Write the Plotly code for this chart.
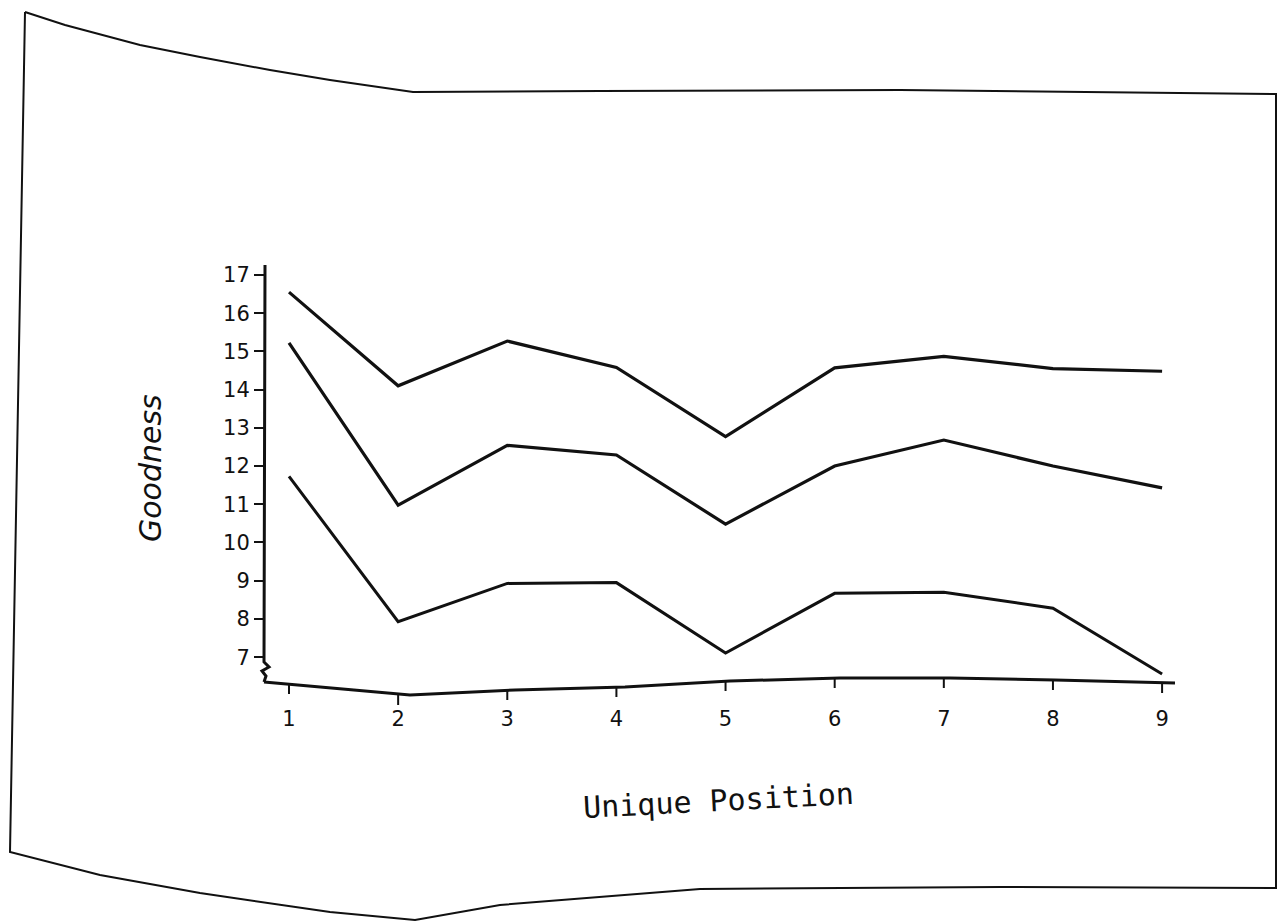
import plotly.graph_objects as go

# ---- data ----
positions = [1, 2, 3, 4, 5, 6, 7, 8, 9]
series_high = [16.55, 14.1, 15.27, 14.58, 12.77, 14.57, 14.87, 14.55, 14.48]
series_mid = [15.22, 10.98, 12.54, 12.29, 10.48, 12.0, 12.68, 12.0, 11.43]
series_low = [11.73, 7.93, 8.93, 8.95, 7.11, 8.67, 8.7, 8.28, 6.56]
y_ticks = [7, 8, 9, 10, 11, 12, 13, 14, 15, 16, 17]
x_title = "Unique Position"
y_title = "Goodness"

# ---- layout geometry (pixels) ----
W, H = 1277, 923
L, R, T, B = 265, 1173, 265, 682
X_RANGE = [0.78, 9.1]
Y_RANGE = [6.35, 17.26]


def px(x):
    return (x - L) / (R - L)


def py(y):
    return (B - y) / (B - T)


def path(points):
    return "M " + " L ".join(f"{px(x):.5f},{py(y):.5f}" for x, y in points)


ink = "#111111"
fig = go.Figure()
for vals, w in [(series_high, 3.2), (series_mid, 3.2), (series_low, 3)]:
    fig.add_trace(go.Scatter(x=positions, y=vals, mode="lines",
                             line=dict(color=ink, width=w),
                             showlegend=False, hoverinfo="skip"))

shapes = []
# y axis line with a break mark near the bottom (scanned drawing)
shapes.append(dict(type="path", xref="paper", yref="paper",
                   path=path([(265, 265), (264, 662), (269, 667), (262, 671),
                              (266, 676), (264, 682)]),
                   line=dict(color=ink, width=3)))
# slightly warped x axis line of the scan
baseline = [(264, 682), (410, 695), (515, 690), (625, 687), (730, 681),
            (840, 678), (950, 678), (1055, 680), (1175, 683)]
shapes.append(dict(type="path", xref="paper", yref="paper", path=path(baseline),
                   line=dict(color=ink, width=3)))
# x tick marks hanging from the warped axis
base_y = {1: 684, 2: 695, 3: 690, 4: 687, 5: 681, 6: 678, 7: 678, 8: 680, 9: 683}
for p in positions:
    xp = (p - X_RANGE[0]) / (X_RANGE[1] - X_RANGE[0])
    shapes.append(dict(type="line", xref="paper", yref="paper", x0=xp, x1=xp,
                       y0=py(base_y[p]), y1=py(base_y[p] + 10),
                       line=dict(color=ink, width=2)))
# scanned page outline (decoration)
outline = [(25, 12), (65, 25), (140, 45), (200, 57), (270, 70), (330, 80),
           (413, 92), (600, 91), (900, 90), (1276, 94), (1276, 888),
           (1000, 887), (700, 889), (500, 905), (415, 920), (330, 912),
           (200, 893), (100, 875), (10, 852), (25, 12)]
shapes.append(dict(type="path", xref="paper", yref="paper", path=path(outline),
                   line=dict(color=ink, width=2), layer="below"))

fig.update_layout(
    width=W, height=H,
    margin=dict(l=L, r=W - R, t=T, b=H - B, pad=0),
    paper_bgcolor="white", plot_bgcolor="white",
    shapes=shapes,
    xaxis=dict(range=X_RANGE, tickvals=positions, ticktext=[str(p) for p in positions],
               showgrid=False, zeroline=False, showline=False,
               ticks="outside", ticklen=18, tickwidth=2, tickcolor="rgba(0,0,0,0)",
               tickfont=dict(family="DejaVu Sans", size=21, color=ink)),
    yaxis=dict(range=Y_RANGE, tickvals=y_ticks, ticktext=[str(t) for t in y_ticks],
               showgrid=False, zeroline=False, showline=False,
               ticks="outside", ticklen=10, tickwidth=2, tickcolor=ink,
               tickfont=dict(family="DejaVu Sans", size=21, color=ink)),
    annotations=[
        dict(text=y_title, xref="paper", yref="paper", x=px(150), y=py(468),
             xanchor="center", yanchor="middle",
             showarrow=False, textangle=-90,
             font=dict(family="DejaVu Sans", size=30, color=ink, style="italic")),
        dict(text=x_title, xref="paper", yref="paper", x=px(718), y=py(800),
             xanchor="center", yanchor="middle",
             showarrow=False, textangle=-3,
             font=dict(family="DejaVu Sans Mono", size=30, color=ink)),
    ],
)

fig.write_html("out.html")
